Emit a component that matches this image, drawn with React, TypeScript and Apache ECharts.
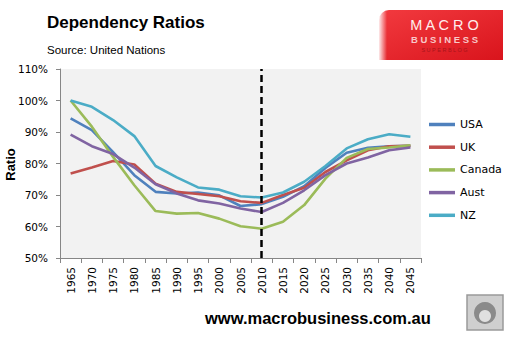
import React, { useEffect, useRef } from "react";
import * as echarts from "echarts";

const years = ["1965","1970","1975","1980","1985","1990","1995","2000","2005","2010","2015","2020","2025","2030","2035","2040","2045"];
const usa = [94.3, 90.6, 83.6, 76.3, 71.0, 70.5, 70.8, 69.9, 66.5, 67.1, 69.4, 72.8, 78.6, 83.4, 85.0, 85.5, 85.6];
const uk = [76.8, 78.7, 80.8, 79.7, 73.6, 71.0, 70.3, 69.6, 68.0, 67.5, 70.0, 72.3, 77.3, 81.0, 84.2, 85.5, 85.6];
const canada = [100.0, 91.7, 82.1, 73.1, 64.9, 64.1, 64.3, 62.5, 60.1, 59.3, 61.5, 66.8, 75.2, 81.8, 84.6, 85.1, 85.8];
const aust = [89.2, 85.5, 83.0, 78.7, 73.4, 70.5, 68.3, 67.3, 65.7, 64.6, 67.5, 71.5, 76.3, 80.0, 81.9, 84.2, 85.1];
const nz = [100.0, 98.0, 93.8, 88.7, 79.2, 75.6, 72.4, 71.7, 69.6, 69.2, 70.8, 74.2, 79.2, 84.8, 87.7, 89.3, 88.5];
const seriesNames = ["USA", "UK", "Canada", "Aust", "NZ"];
const seriesColors = ["#4F81BD", "#C0504D", "#9BBB59", "#8064A2", "#4BACC6"];
const markerYear = "2010";

export default function App() {
  const ref = useRef<HTMLDivElement>(null);
  useEffect(() => {
    document.body.style.margin = "0";
    if (!ref.current) return;
    const chart = echarts.init(ref.current, null, { renderer: "svg" });
    const data = [usa, uk, canada, aust, nz];
    const axisFont = "DejaVu Sans";
    const series: any[] = data.map((d, i) => ({
      name: seriesNames[i],
      type: "line",
      data: d,
      showSymbol: false,
      symbol: "none",
      lineStyle: { width: 2.6, color: seriesColors[i] },
      itemStyle: { color: seriesColors[i] },
      z: 3,
    }));
    series[0].markLine = {
      silent: true,
      symbol: "none",
      label: { show: false },
      lineStyle: { color: "#000", width: 2.5, type: [7, 4] },
      data: [{ xAxis: markerYear }],
      z: 5,
    };
    chart.setOption({
      animation: false,
      backgroundColor: "#fff",
      grid: {
        left: 60,
        right: 94,
        top: 69,
        bottom: 80,
        show: true,
        backgroundColor: "#F2F2F2",
        borderWidth: 0,
      },
      legend: {
        orient: "vertical",
        left: 429,
        top: 119,
        padding: 0,
        icon: "rect",
        itemWidth: 26,
        itemHeight: 3.5,
        itemGap: 11.7,
        data: seriesNames,
        textStyle: { fontFamily: axisFont, fontSize: 11, color: "#000" },
      },
      xAxis: {
        type: "category",
        data: years,
        boundaryGap: true,
        axisLine: { lineStyle: { color: "#868686", width: 1 } },
        axisTick: { show: true, length: 5, interval: 0, lineStyle: { color: "#868686" } },
        axisLabel: {
          rotate: 90,
          interval: 0,
          margin: 9,
          fontFamily: axisFont,
          fontSize: 10.5,
          color: "#000",
        },
        splitLine: { show: false },
      },
      yAxis: {
        type: "value",
        min: 50,
        max: 110,
        interval: 10,
        axisLine: { show: true, lineStyle: { color: "#868686", width: 1 } },
        axisTick: { show: true, length: 4, lineStyle: { color: "#868686" } },
        axisLabel: {
          formatter: "{value}%",
          margin: 12,
          fontFamily: axisFont,
          fontSize: 10.5,
          color: "#000",
        },
        splitLine: { show: false },
      },
      graphic: [
        {
          type: "text",
          left: 47,
          top: 14,
          style: { text: "Dependency Ratios", font: "bold 17px 'Liberation Sans'", fill: "#000" },
        },
        {
          type: "text",
          left: 47,
          top: 44,
          style: { text: "Source: United Nations", font: "11.5px 'Liberation Sans'", fill: "#000" },
        },
        {
          type: "text",
          x: 10.5,
          y: 164.5,
          rotation: Math.PI / 2,
          style: {
            text: "Ratio",
            font: "bold 13px 'Liberation Sans'",
            fill: "#000",
            align: "center",
            verticalAlign: "middle",
          },
        },
        {
          type: "text",
          left: 205,
          top: 309,
          style: { text: "www.macrobusiness.com.au", font: "bold 16.5px 'Liberation Sans'", fill: "#000" },
        },
        {
          type: "rect",
          shape: { x: 379, y: 10, width: 124, height: 50, r: [10, 0, 0, 0] },
          style: {
            fill: new echarts.graphic.LinearGradient(0, 0, 1, 1, [
              { offset: 0, color: "#F23A3F" },
              { offset: 1, color: "#D9141C" },
            ]),
          },
        },
        {
          type: "rect",
          shape: { x: 379, y: 10, width: 8, height: 50, r: [10, 0, 0, 0] },
          style: {
            fill: new echarts.graphic.LinearGradient(0, 0, 1, 0, [
              { offset: 0, color: "rgba(255,255,255,0.9)" },
              { offset: 1, color: "rgba(255,255,255,0)" },
            ]),
          },
        },
        {
          type: "text",
          x: 444.5,
          y: 25,
          style: {
            text: "M A C R O",
            font: "14.5px 'Liberation Sans'",
            fill: "#FFEDED",
            align: "center",
            verticalAlign: "middle",
          },
        },
        {
          type: "text",
          x: 444.5,
          y: 39.5,
          style: {
            text: "B U S I N E S S",
            font: "bold 9.5px 'Liberation Sans'",
            fill: "#F8C8C8",
            align: "center",
            verticalAlign: "middle",
          },
        },
        {
          type: "text",
          x: 444.5,
          y: 49.5,
          style: {
            text: "S U P E R B L O G",
            font: "5.5px 'Liberation Sans'",
            fill: "#A8141A",
            align: "center",
            verticalAlign: "middle",
          },
        },
        {
          type: "rect",
          shape: { x: 467, y: 295, width: 36, height: 35 },
          style: { fill: "#CFCFCF", stroke: "#9A9A9A", lineWidth: 1.5 },
        },
        {
          type: "circle",
          shape: { cx: 485, cy: 313, r: 11 },
          style: { fill: "#8A8A8A" },
        },
        {
          type: "circle",
          shape: { cx: 485, cy: 316, r: 6 },
          style: { fill: "#E0E0E0" },
        },
      ],
      series,
    });
    return () => chart.dispose();
  }, []);
  return <div ref={ref} style={{ width: 515, height: 338 }} />;
}
